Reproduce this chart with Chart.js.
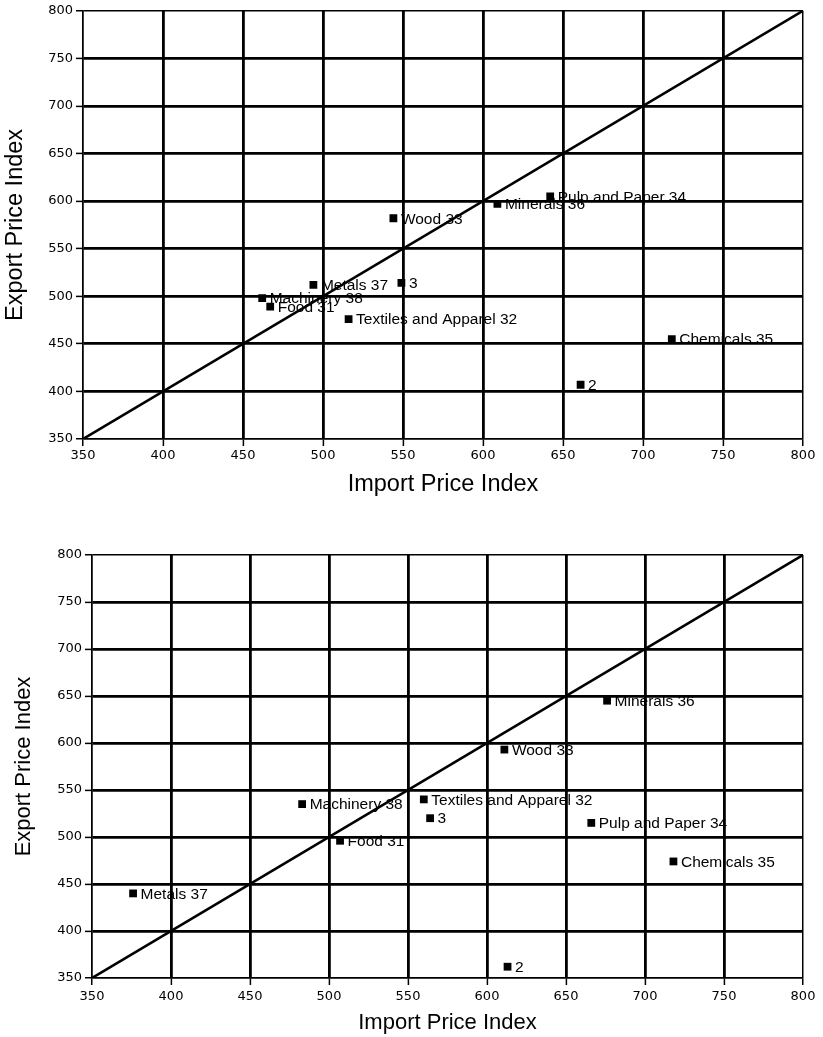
<!DOCTYPE html>
<html>
<head>
<meta charset="utf-8">
<script src="https://cdn.jsdelivr.net/npm/chart.js@4/dist/chart.umd.min.js"></script>
<style>
  html, body { margin: 0; padding: 0; background: #fff; }
  body { width: 823px; height: 1037px; position: relative; overflow: hidden; }
  canvas { position: absolute; left: 0; }
  #c1 { top: 0; }
  #c2 { top: 520px; }
</style>
</head>
<body>
<canvas id="c1" width="823" height="510"></canvas>
<canvas id="c2" width="823" height="517"></canvas>
<script>
// ---- Data ----
const tickValues = [350, 400, 450, 500, 550, 600, 650, 700, 750, 800];
const diagonal = [350, 800];

// Upper chart
const categories1 = ['Wood 33', 'Minerals 36', 'Pulp and Paper 34', 'Metals 37', '3', 'Machinery 38', 'Food 31', 'Textiles and Apparel 32', 'Chemicals 35', '2'];
const importIdx1 = [544, 609, 642, 494, 549, 462, 467, 516, 718, 661];
const exportIdx1 = [582, 597, 605, 512, 514, 498, 489, 476, 455, 407];

// Lower chart
const categories2 = ['Minerals 36', 'Wood 33', 'Machinery 38', 'Food 31', 'Metals 37', 'Textiles and Apparel 32', '3', 'Pulp and Paper 34', 'Chemicals 35', '2'];
const importIdx2 = [676, 611, 483, 507, 376, 560, 564, 666, 718, 613];
const exportIdx2 = [645, 593, 535, 496, 440, 540, 520, 515, 474, 362];

const xTitle = 'Import Price Index';
const yTitle = 'Export Price Index';

// ---- Rendering ----
const FONT = "'Liberation Sans', Arial, Helvetica, sans-serif";
const TICKFONT = "'DejaVu Sans', sans-serif";

const pointLabels = {
  id: 'pointLabels',
  afterDatasetsDraw(chart, args, opts) {
    const {ctx, scales: {x, y}} = chart;
    const ds = chart.data.datasets[1];
    ctx.save();
    ctx.font = opts.size + 'px ' + FONT;
    ctx.fillStyle = '#000';
    ctx.textAlign = 'left';
    ctx.textBaseline = 'middle';
    ds.data.forEach((p, i) => {
      ctx.fillText(ds.labels[i], x.getPixelForValue(p.x) + 7.5, y.getPixelForValue(p.y) + 1);
    });
    ctx.restore();
  }
};

function lw(ctx) {
  const n = ctx.scale.ticks.length;
  return (ctx.index === 0 || ctx.index === n - 1) ? 1.5 : 2.8;
}

function makeChart(id, cats, xs, ys, cfg) {
  const pts = xs.map((v, i) => ({x: v, y: ys[i]}));
  return new Chart(document.getElementById(id), {
    type: 'scatter',
    data: {
      datasets: [
        {
          type: 'line',
          data: diagonal.map(v => ({x: v, y: v})),
          borderColor: '#000',
          borderWidth: 2.6,
          pointRadius: 0,
          fill: false
        },
        {
          data: pts,
          labels: cats,
          pointStyle: 'rect',
          pointRadius: 5.5,
          backgroundColor: '#000',
          borderColor: '#000',
          borderWidth: 0
        }
      ]
    },
    options: {
      responsive: false,
      animation: false,
      devicePixelRatio: 1,
      layout: { padding: { top: cfg.top, right: 20, left: 0, bottom: 0 } },
      plugins: {
        legend: { display: false },
        tooltip: { enabled: false },
        pointLabels: { size: cfg.labelSize }
      },
      scales: {
        x: {
          type: 'linear',
          min: tickValues[0],
          max: tickValues[tickValues.length - 1],
          afterBuildTicks: s => { s.ticks = tickValues.map(v => ({value: v})); },
          afterFit: s => { s.height = cfg.xh; },
          ticks: { color: '#000', padding: cfg.xpad, font: { family: TICKFONT, size: 13 } },
          grid: { color: '#000', lineWidth: lw, tickLength: 7, tickWidth: 1.5, tickColor: '#000' },
          border: { display: true, color: '#000', width: 1.5 },
          title: {
            display: true, text: xTitle, color: '#000',
            font: { family: FONT, size: cfg.titleSize, lineHeight: 1.2 },
            padding: { top: 0, bottom: cfg.xtpad }
          }
        },
        y: {
          type: 'linear',
          min: tickValues[0],
          max: tickValues[tickValues.length - 1],
          afterBuildTicks: s => { s.ticks = tickValues.map(v => ({value: v})); },
          afterFit: s => { s.width = cfg.yw; },
          ticks: { color: '#000', padding: 3, font: { family: TICKFONT, size: 13 } },
          grid: { color: '#000', lineWidth: lw, tickLength: 7, tickWidth: 1.5, tickColor: '#000' },
          border: { display: true, color: '#000', width: 1.5 },
          title: {
            display: true, text: yTitle, color: '#000',
            font: { family: FONT, size: cfg.titleSize, lineHeight: 1.2 },
            padding: { top: cfg.ytpad, bottom: 0 }
          }
        }
      }
    },
    plugins: [pointLabels]
  });
}

makeChart('c1', categories1, importIdx1, exportIdx1,
  { top: 8, xh: 71, yw: 83, xpad: 2, xtpad: 11, ytpad: 1, titleSize: 23.5, labelSize: 15.5 });
makeChart('c2', categories2, importIdx2, exportIdx2,
  { top: 35, xh: 59, yw: 92, xpad: 4, xtpad: 1, ytpad: 11, titleSize: 22, labelSize: 15.5 });
</script>
</body>
</html>
